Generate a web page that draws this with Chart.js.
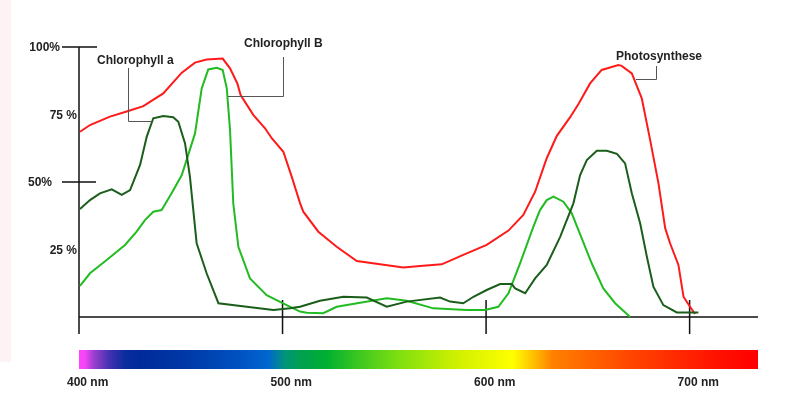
<!DOCTYPE html>
<html>
<head>
<meta charset="utf-8">
<script src="https://cdn.jsdelivr.net/npm/chart.js@4.4.0/dist/chart.umd.min.js"></script>
<style>
html,body{margin:0;padding:0;background:#fff;}
#wrap{width:800px;height:400px;position:relative;}
</style>
</head>
<body>
<div id="wrap"><canvas id="c" width="800" height="400"></canvas></div>
<script>
// Photosynthese (red)
const photoNm  = [400.5,405.4,415.2,424.2,431.6,441.4,450.5,457,462.7,470.6,474.2,477.8,479.4,485.7,491.4,494.7,500.4,504.5,508.6,510.2,517.6,526.6,536.5,547.9,559.4,567.6,578.2,588.8,600.3,611,618.3,624.1,629.8,634.7,641.3,645.4,651.1,656.8,665,666.6,671.6,676.5,680.6,684.7,688,690.4,694.5,697,700.2,702.7];
const photoVal = [68.6,71.1,74.2,76.3,78.1,82.8,90.5,94.2,95.4,95.7,92.1,86.5,82.2,74.8,69.9,66.2,61.2,52,42.2,39,31.6,26,20.7,19.5,18.3,18.9,19.5,23,26.7,32,37.8,46.4,58.8,67,74,78.9,86.5,91.5,93.3,93,90.2,81,65.6,49.5,32.9,27.3,19.3,7.5,3.8,1.1];
// Chlorophyll a (dark green)
const chlANm  = [400.5,405.4,410.3,416.1,421,425.1,430,433.3,436.5,441.4,446.3,448.8,452.1,454.5,457.8,462.7,468.5,482.4,495.5,503.7,508.6,518.4,529.9,541.4,551.2,561,577.4,582.3,588.8,593.8,600.3,606.9,612.6,614.3,619.2,624.1,629.8,636.4,642.9,646.2,649.5,654.4,659.3,664.3,668.3,671.6,675.7,679,682.2,687.1,693.7,704.3];
const chlAVal = [40,43.3,45.8,47.3,45.2,47,56.3,66.8,73.6,74.4,74,72.3,64.3,52,27.3,16.2,5.1,3.8,2.6,3.2,3.8,6,7.5,7.2,3.8,5.7,7.2,5.7,5.1,7.5,10,12.2,12.2,10.6,8.8,14.3,19.3,29.7,42.1,52.6,58.1,61.6,61.6,60.4,56.9,45.8,34.7,22.3,11.2,4.4,1.7,1.7];
// Chlorophyll B (light green)
const chlBNm  = [400.5,405.4,413.6,422.6,428.3,432.4,436.5,440.6,445.5,450.5,457,460.3,463.5,467.7,470.6,472.6,474.2,475.8,478.3,484,492.2,502,508.6,511.9,520,526.6,538.1,551.2,561,574.1,590.5,599.5,606,611,616.7,623.2,626.5,629.8,633.1,638,642.1,647,651.9,657.6,663.4,670.8];
const chlBVal = [11.5,16.2,21.1,26.7,31.6,35.9,39,39.6,45.8,52.6,68,84.7,91.7,92.3,91.5,84.7,69.3,42.1,26,14.3,8.1,4.4,2,1.6,1.4,3.8,5.3,6.9,6,3.2,2.6,2.6,3.8,8.8,19.9,33.4,39.6,43.3,44.6,42.7,38.4,29.1,19.9,10.6,5.1,0];

const xTicks = [400,500,600,700];
const xTickLabels = ['400 nm','500 nm','600 nm','700 nm'];
const yTickValues = [100,75,50,25];
const yTickLabels = ['100%','75 %','50%','25 %'];
const seriesNames = ['Photosynthese','Chlorophyll a','Chlorophyll B'];

function pts(xs, ys){ return xs.map((x,i)=>({x:x,y:ys[i]})); }

const FONT = 'bold 12px "Liberation Sans", Arial, sans-serif';

const decor = {
  id:'decor',
  beforeDatasetsDraw(chart){
    const ctx = chart.ctx, xs = chart.scales.x, ys = chart.scales.y;
    const y0 = ys.getPixelForValue(0), yTop = ys.getPixelForValue(100);
    const xL = xs.getPixelForValue(400), xR = chart.chartArea.right;
    ctx.save();
    ctx.fillStyle = '#fdf3f5';
    ctx.fillRect(0,0,11,362);
    ctx.strokeStyle = '#111';
    ctx.lineWidth = 1.5;
    ctx.beginPath();
    ctx.moveTo(xL, yTop); ctx.lineTo(xL, y0+17);
    ctx.moveTo(xL, y0); ctx.lineTo(xR, y0);
    xTicks.slice(1).forEach(v=>{
      const px = xs.getPixelForValue(v);
      ctx.moveTo(px, y0-17); ctx.lineTo(px, y0+17);
    });
    ctx.moveTo(62, ys.getPixelForValue(100)); ctx.lineTo(97, ys.getPixelForValue(100));
    ctx.moveTo(62, ys.getPixelForValue(50)); ctx.lineTo(96, ys.getPixelForValue(50));
    ctx.stroke();
    ctx.font = FONT;
    ctx.fillStyle = '#222';
    ctx.textAlign = 'right';
    ctx.textBaseline = 'middle';
    const rightEdges = [60,77,52,77];
    yTickValues.forEach((v,i)=>{
      ctx.fillText(yTickLabels[i], rightEdges[i], ys.getPixelForValue(v)+1);
    });
    ctx.restore();
  },
  afterDraw(chart){
    const ctx = chart.ctx, xs = chart.scales.x;
    const xL = xs.getPixelForValue(400), xR = chart.chartArea.right;
    ctx.save();
    const g = ctx.createLinearGradient(xL,0,xR,0);
    const w = xR - xL;
    const s2 = [
      [79,'#ff44ff'],[85,'#f545f5'],[93,'#a040d0'],[110,'#4030b0'],[125,'#0a2c9e'],[140,'#002a9a'],[190,'#003aa8'],[240,'#0052c2'],[268,'#0066d0'],
      [285,'#00957a'],[300,'#00a050'],[327,'#00b030'],[360,'#40c820'],[400,'#80e010'],[457,'#d0f000'],[513,'#ffff00'],[533,'#ffc000'],[553,'#ff8000'],[633,'#ff4400'],[720,'#ff1000'],[757,'#ff0000']
    ];
    s2.forEach(s=>{ g.addColorStop(Math.min(1,Math.max(0,(s[0]-xL)/w)), s[1]); });
    ctx.fillStyle = g;
    ctx.fillRect(xL, 350, w, 19);
    ctx.font = FONT;
    ctx.fillStyle = '#222';
    ctx.textAlign = 'left';
    ctx.textBaseline = 'middle';
    xTicks.forEach((v,i)=>{
      ctx.fillText(xTickLabels[i], xs.getPixelForValue(v)-12, 383);
    });
    ctx.fillText(seriesNames[1], 97, 61);
    ctx.fillText(seriesNames[2], 244, 44);
    ctx.fillText(seriesNames[0], 616, 57);
    ctx.strokeStyle = '#555';
    ctx.lineWidth = 1;
    ctx.beginPath();
    ctx.moveTo(128.5,68); ctx.lineTo(128.5,121.5); ctx.lineTo(152,121.5);
    ctx.moveTo(283.5,57); ctx.lineTo(283.5,96.5); ctx.lineTo(228,96.5);
    ctx.moveTo(656.5,66); ctx.lineTo(656.5,79.5); ctx.lineTo(636,79.5);
    ctx.stroke();
    ctx.restore();
  }
};

new Chart(document.getElementById('c'), {
  type:'line',
  data:{
    datasets:[
      {label:seriesNames[1], data:pts(chlANm,chlAVal), borderColor:'#1b5e1b', borderWidth:2, pointRadius:0, tension:0, fill:false, clip:false},
      {label:seriesNames[2], data:pts(chlBNm,chlBVal), borderColor:'#22bb22', borderWidth:2, pointRadius:0, tension:0, fill:false, clip:false},
      {label:seriesNames[0], data:pts(photoNm,photoVal), borderColor:'#ff1a1a', borderWidth:2, pointRadius:0, tension:0, fill:false, clip:false}
    ]
  },
  options:{
    responsive:false,
    animation:false,
    layout:{padding:{left:79,right:42,top:47,bottom:83}},
    plugins:{legend:{display:false},tooltip:{enabled:false}},
    scales:{
      x:{type:'linear',min:400,max:733.6,display:false},
      y:{min:0,max:100,display:false}
    }
  },
  plugins:[decor]
});
</script>
</body>
</html>
